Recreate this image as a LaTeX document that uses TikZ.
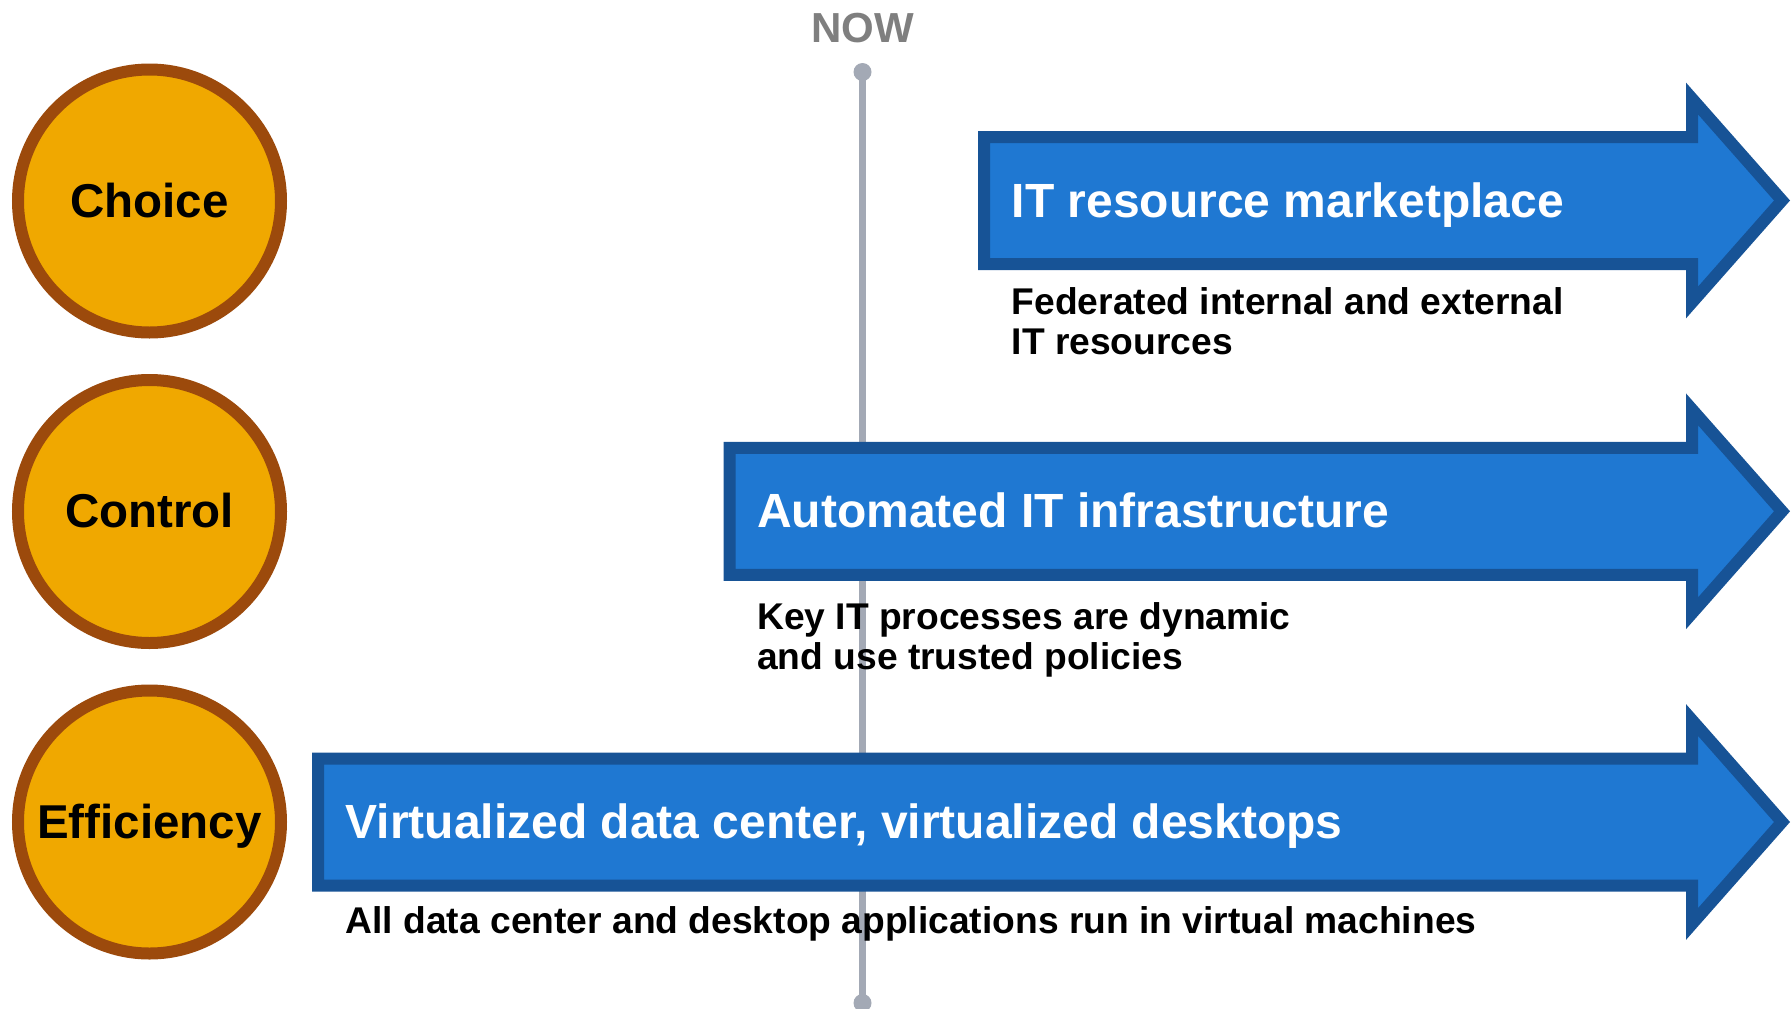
\documentclass[tikz,border=0pt]{standalone}
\usepackage{fontspec}
\setmainfont{Liberation Sans}
\usepackage{tikz}
\definecolor{ringfill}{RGB}{240, 168, 0}
\definecolor{ringedge}{RGB}{156, 74, 12}
\definecolor{arrowfill}{RGB}{31, 120, 210}
\definecolor{arrowedge}{RGB}{23, 83, 150}
\definecolor{timeline}{RGB}{163, 169, 181}
\definecolor{nowgray}{RGB}{127, 127, 127}

% big stage arrow: #1 = left edge, #2 = middle height
\newcommand{\stagearrow}[2]{%
	\draw[arrowedge, fill=arrowfill, line width=12pt, miter limit=20]
		(#1+6, #2-63.5) -- (1692, #2-63.5) -- (1692, #2-102) -- (1782, #2)
		-- (1692, #2+102) -- (1692, #2+63.5) -- (#1+6, #2+63.5) -- cycle;}

\begin{document}
\begin{tikzpicture}[x=1pt, y=-1pt,
	ring/.style = {circle, draw=ringedge, fill=ringfill, line width=12pt, minimum size=263pt, inner sep=0pt, text height=32pt, text depth=0pt, font=\bfseries\fontsize{47.5}{57}\selectfont},
	nowdot/.style = {circle, fill=timeline, minimum size=18pt, inner sep=0pt},
	arrowtitle/.style = {anchor=base west, inner sep=0pt, text=white, font=\bfseries\fontsize{48}{58}\selectfont},
	arrownote/.style = {anchor=base west, inner sep=0pt, align=left, font=\bfseries\fontsize{37.2}{40}\selectfont}]
	\useasboundingbox (0,0) rectangle (1791,1009);

	% timeline
	\node[text=nowgray, font=\bfseries\fontsize{42}{50}\selectfont, anchor=base, inner sep=0pt] (nowlabel) at (862.5, 42.7) {NOW};
	\node[nowdot] (nowtop) at (862.5, 72) {};
	\node[nowdot] (nowbottom) at (862.5, 1003) {};
	\draw[timeline, line width=7pt] (nowtop.center) -- (nowbottom.center);

	% circles
	\node[ring] (choice) at (149.5, 201) {Choice};
	\node[ring] (control) at (149.5, 511.5) {Control};
	\node[ring] (efficiency) at (149.5, 822) {Efficiency};

	% arrows
	\stagearrow{978}{200.5}
	\stagearrow{723.5}{511.3}
	\stagearrow{312}{822}

	\node[arrowtitle] (market) at (1011.5, 217) {IT resource marketplace};
	\node[arrowtitle] (autoinfra) at (757, 527.7) {Automated IT infrastructure};
	\node[arrowtitle] (virtdc) at (345.5, 838.5) {Virtualized data center, virtualized desktops};

	% notes (base = last line)
	\node[arrownote] (marketnote) at (1011.5, 354.3) {Federated internal and external\\IT resources};
	\node[arrownote] (autonote) at (757, 669) {Key IT processes are dynamic\\and use trusted policies};
	\node[arrownote] (virtnote) at (345.5, 933) {All data center and desktop applications run in virtual machines};
\end{tikzpicture}
\end{document}
